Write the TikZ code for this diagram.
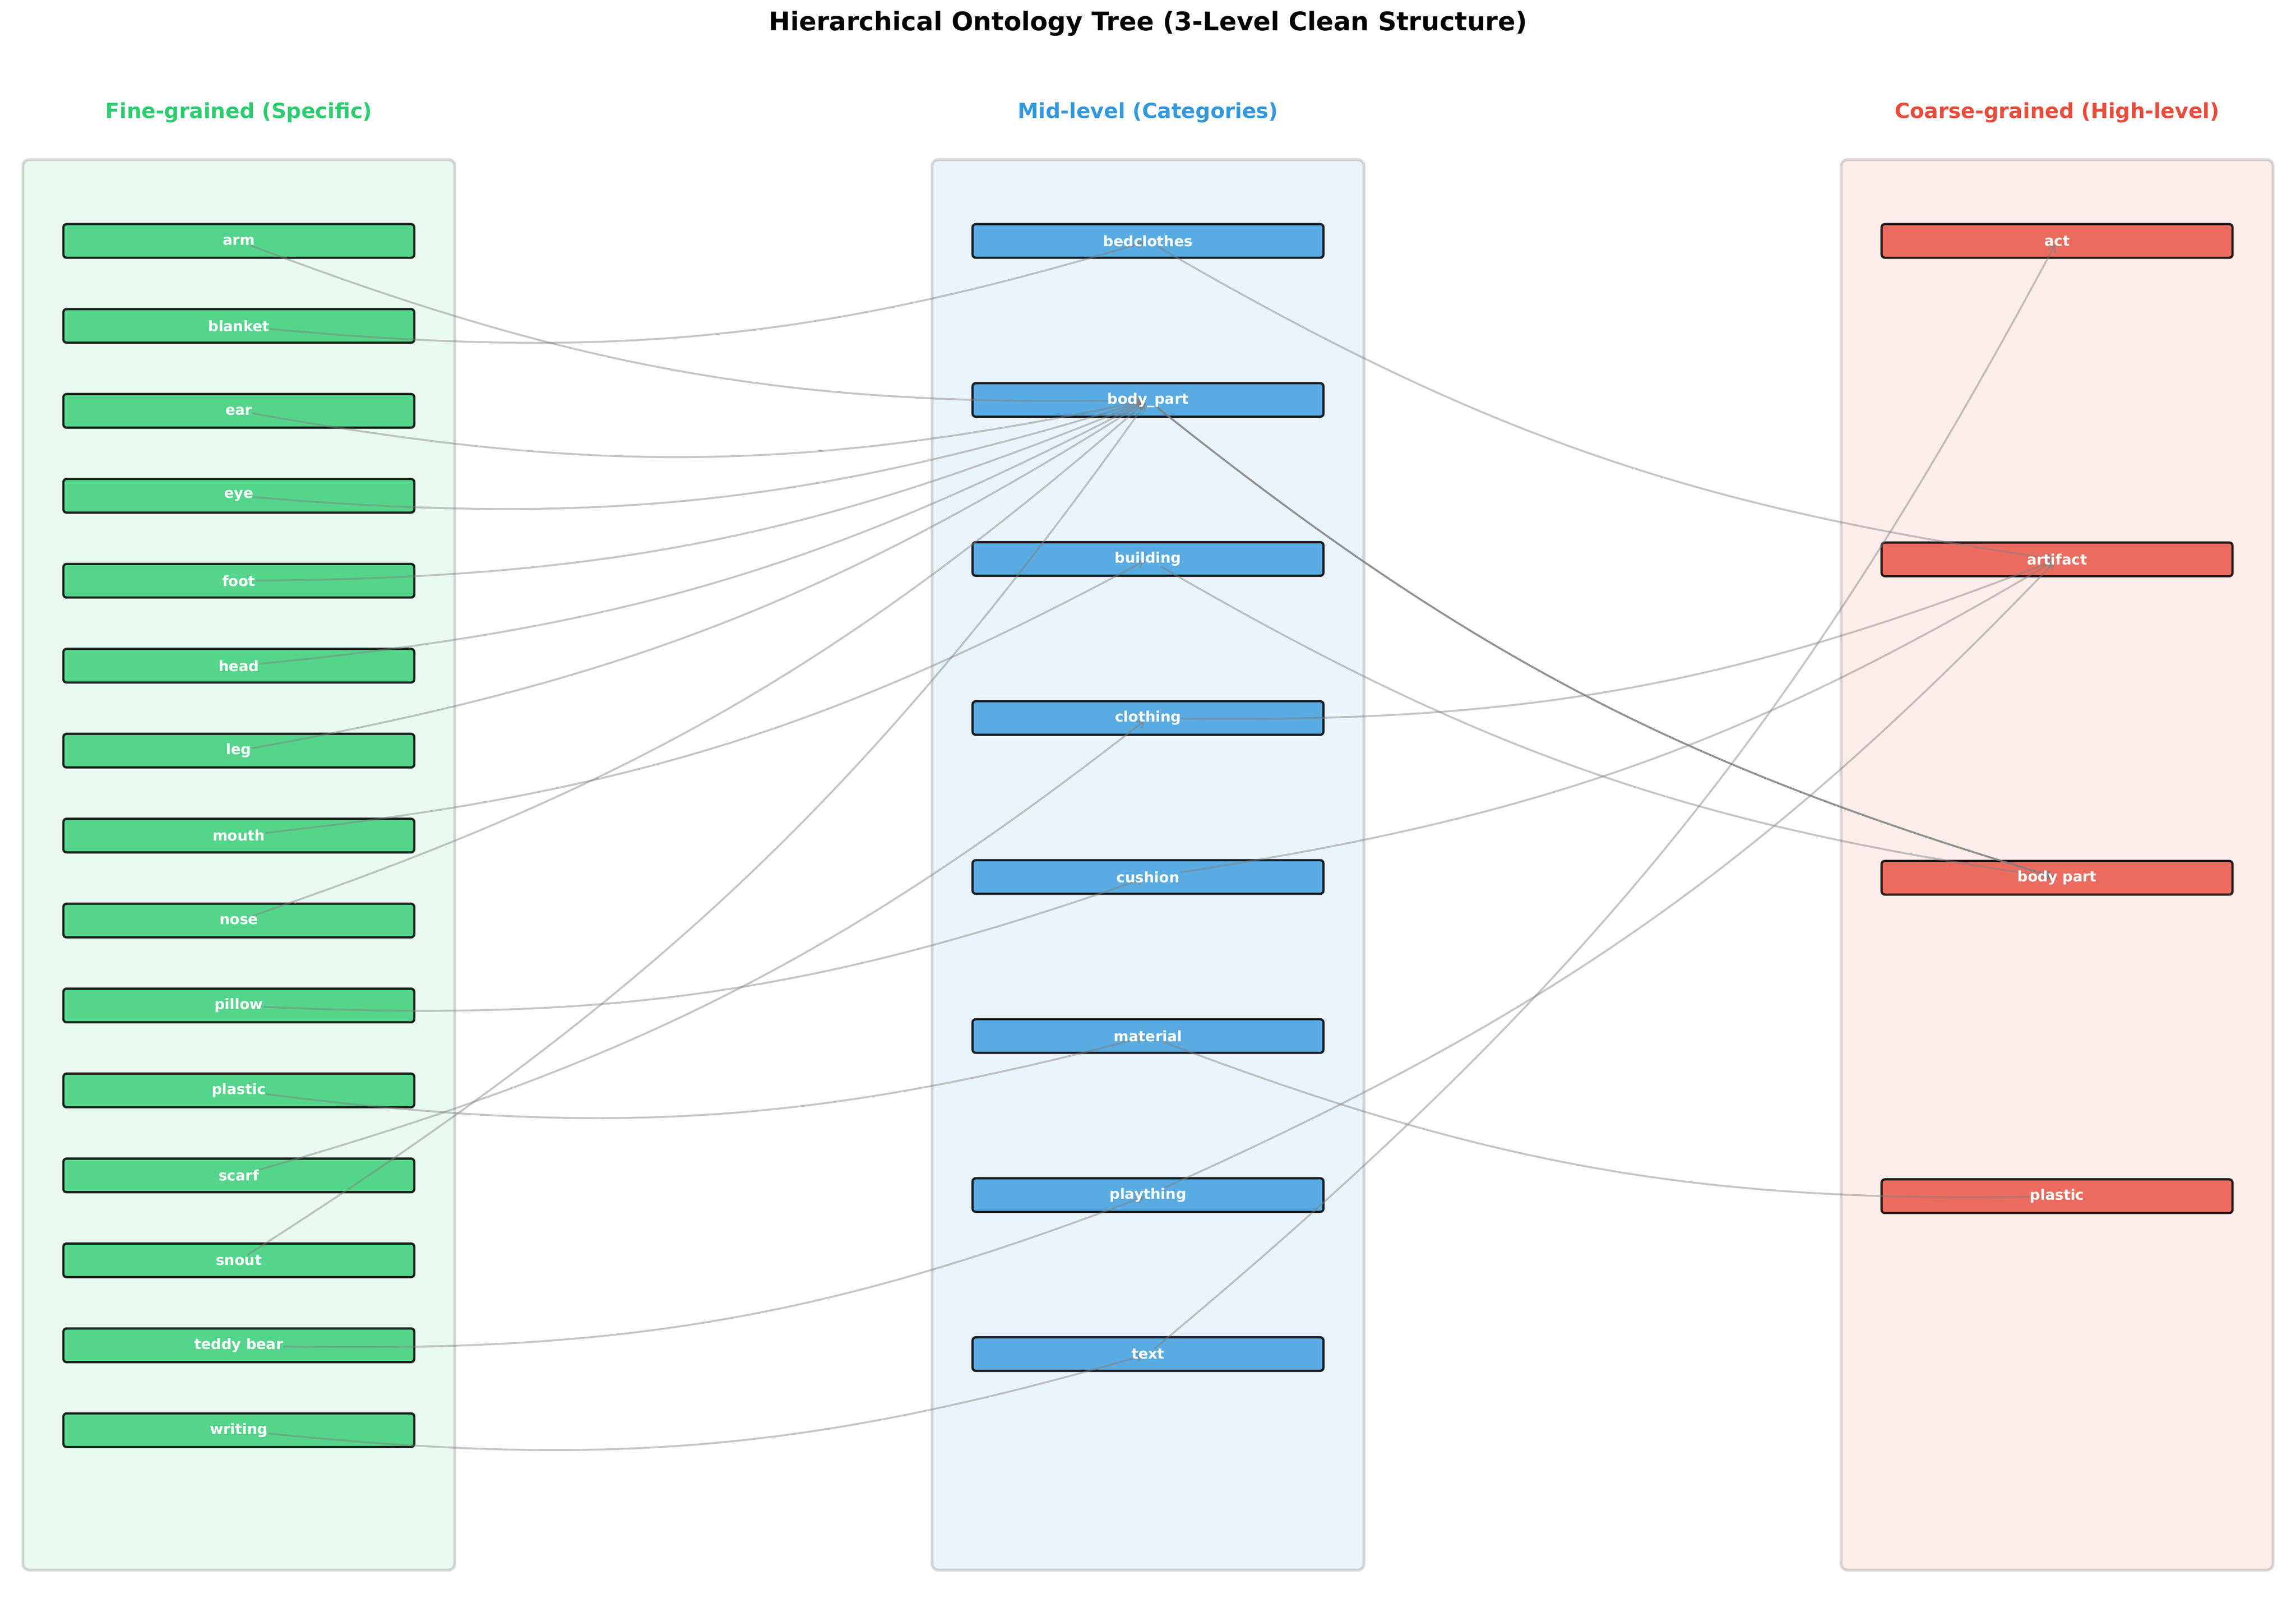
\documentclass[tikz,border=0pt]{standalone}
\usepackage{fontspec}
\setmainfont{DejaVu Sans}
\usetikzlibrary{arrows.meta}

\definecolor{fineC}{HTML}{2ECC71}
\definecolor{midC}{HTML}{3498DB}
\definecolor{coarseC}{HTML}{E74C3C}

\pgfdeclarelayer{panels}
\pgfdeclarelayer{boxes}
\pgfdeclarelayer{links}
\pgfsetlayers{panels,boxes,links,main}

\tikzset{
  panel/.style={draw=gray, draw opacity=0.3, line width=1.8pt, fill opacity=0.1, rounded corners=4pt},
  box/.style={draw=black, draw opacity=0.85, fill opacity=0.8, line width=1.4pt, rounded corners=2pt,
    minimum width=219pt, minimum height=21pt, inner sep=0pt},
  lbl/.style={text=white, font=\fontsize{9}{10}\selectfont\bfseries, inner sep=0pt},
  colhead/.style={font=\fontsize{13}{15}\selectfont\bfseries},
  link/.style={draw=gray, draw opacity=0.45, line width=1.2pt, -{Straight Barb[length=4pt,width=5pt]},
    shorten >=2pt, bend right=11},
}

\begin{document}
\begin{tikzpicture}[x=0.9138pt, y=-0.9138pt]
  \useasboundingbox (0,0) rectangle (1568,1094.2);

  \node[font=\fontsize{16}{19}\selectfont\bfseries] (title) at (784,16) {Hierarchical Ontology Tree (3-Level Clean Structure)};
  \node[colhead, text=fineC] (h-fine) at (163.1,77) {Fine-grained (Specific)};
  \node[colhead, text=midC] (h-mid) at (784,77) {Mid-level (Categories)};
  \node[colhead, text=coarseC] (h-coarse) at (1404.8,77) {Coarse-grained (High-level)};

  \begin{pgfonlayer}{panels}
    \draw[panel, fill=fineC] (15.6,109) rectangle (310.6,1072);
    \draw[panel, fill=midC] (636.5,109) rectangle (931.5,1072);
    \draw[panel, fill=coarseC] (1257.3,109) rectangle (1552.3,1072);
  \end{pgfonlayer}

  % fine-grained
  \foreach \n/\t [count=\i] in {arm/arm, blanket/blanket, ear/ear, eye/eye, foot/foot, head/head,
      leg/leg, mouth/mouth, nose/nose, pillow/pillow, plastic/plastic, scarf/scarf, snout/snout,
      teddybear/teddy bear, writing/writing}
  {
    \begin{pgfonlayer}{boxes}
      \node[box, fill=fineC] at (163.1,{164.5+58*(\i-1)}) {};
    \end{pgfonlayer}
    \node[lbl] (f-\n) at (163.1,{164.5+58*(\i-1)}) {\t};
  }

  % mid-level
  \foreach \n/\t [count=\i] in {bedclothes/bedclothes, bodypart/body\_part, building/building,
      clothing/clothing, cushion/cushion, material/material, plaything/plaything, text/text}
  {
    \begin{pgfonlayer}{boxes}
      \node[box, fill=midC] at (784,{164.5+108.57*(\i-1)}) {};
    \end{pgfonlayer}
    \node[lbl] (m-\n) at (784,{164.5+108.57*(\i-1)}) {\t};
  }

  % coarse-grained
  \foreach \n/\t [count=\i] in {act/act, artifact/artifact, bodypart/body part, plastic/plastic}
  {
    \begin{pgfonlayer}{boxes}
      \node[box, fill=coarseC] at (1404.8,{164.5+217.4*(\i-1)}) {};
    \end{pgfonlayer}
    \node[lbl] (c-\n) at (1404.8,{164.5+217.4*(\i-1)}) {\t};
  }

  \begin{pgfonlayer}{links}
    \foreach \a/\b in {f-arm/m-bodypart, f-blanket/m-bedclothes, f-ear/m-bodypart, f-eye/m-bodypart,
        f-foot/m-bodypart, f-head/m-bodypart, f-leg/m-bodypart, f-mouth/m-building,
        f-nose/m-bodypart, f-pillow/m-cushion, f-plastic/m-material, f-scarf/m-clothing,
        f-snout/m-bodypart, f-teddybear/m-plaything, f-writing/m-text,
        m-bedclothes/c-artifact, m-building/c-bodypart, m-clothing/c-artifact,
        m-cushion/c-artifact, m-material/c-plastic, m-plaything/c-artifact, m-text/c-act}
      \draw[link] (\a) to (\b.center);
    \draw[link, draw opacity=0.85] (m-bodypart) to (c-bodypart.center);
  \end{pgfonlayer}
\end{tikzpicture}
\end{document}
